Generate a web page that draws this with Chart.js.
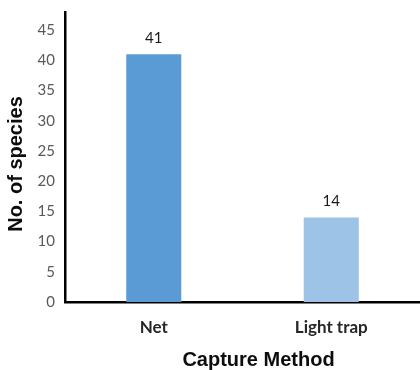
<!DOCTYPE html>
<html>
<head>
<meta charset="utf-8">
<script src="https://cdn.jsdelivr.net/npm/chart.js@4"></script>
<style>
  html, body { margin: 0; padding: 0; background: #fff; }
  #chart { display: block; }
</style>
</head>
<body>
<canvas id="chart" width="420" height="370"></canvas>
<script>
const captureMethods = ['Net', 'Light trap'];
const speciesCount = [41, 14];
const barColors = ['#5b9bd5', '#9dc3e6'];
const yTitle = 'No. of species';
const xTitle = 'Capture Method';

// value labels over the bars + axis titles
const labelsPlugin = {
    id: 'labelsPlugin',
    afterDatasetsDraw(chart) {
        const ctx = chart.ctx;
        const area = chart.chartArea;
        const meta = chart.getDatasetMeta(0);
        ctx.save();
        ctx.font = '15px Lato';
        ctx.fillStyle = '#1a1a1a';
        ctx.textAlign = 'center';
        ctx.textBaseline = 'alphabetic';
        meta.data.forEach((bar, i) => {
            ctx.fillText(speciesCount[i], bar.x, bar.y - 11);
        });

        ctx.font = 'bold 20px "Liberation Sans", Arial, sans-serif';
        ctx.fillStyle = '#0d0d0d';
        ctx.fillText(xTitle, (area.left + area.right) / 2 + 16, chart.height - 4);

        ctx.translate(22, (area.top + area.bottom) / 2 + 7);
        ctx.rotate(-Math.PI / 2);
        ctx.fillText(yTitle, 0, 0);
        ctx.restore();
    }
};

new Chart(document.getElementById('chart'), {
    type: 'bar',
    data: {
        labels: captureMethods,
        datasets: [{
            data: speciesCount,
            backgroundColor: barColors,
            borderWidth: 0,
            categoryPercentage: 1,
            barPercentage: 0.31
        }]
    },
    options: {
        responsive: false,
        animation: false,
        devicePixelRatio: 1,
        layout: { padding: { top: 12, left: 0, right: 0, bottom: 0 } },
        plugins: {
            legend: { display: false },
            tooltip: { enabled: false }
        },
        scales: {
            x: {
                afterFit: (scale) => {
                    scale.height = 68;
                    scale.paddingLeft = 0;
                    scale.paddingRight = 0;
                },
                grid: { display: false, drawTicks: false },
                border: { display: true, color: '#000', width: 2.5 },
                ticks: {
                    padding: 15,
                    color: '#262626',
                    font: { family: 'Lato', size: 17, weight: 'bold' }
                }
            },
            y: {
                min: 0,
                max: 48,
                afterFit: (scale) => {
                    scale.width = 65;
                    scale.paddingTop = 0;
                    scale.paddingBottom = 0;
                },
                grid: { display: false, drawTicks: false },
                border: { display: true, color: '#000', width: 2.5 },
                ticks: {
                    stepSize: 5,
                    includeBounds: false,
                    padding: 10,
                    color: '#595959',
                    font: { family: 'Lato', size: 15 }
                }
            }
        }
    },
    plugins: [labelsPlugin]
});
</script>
</body>
</html>
